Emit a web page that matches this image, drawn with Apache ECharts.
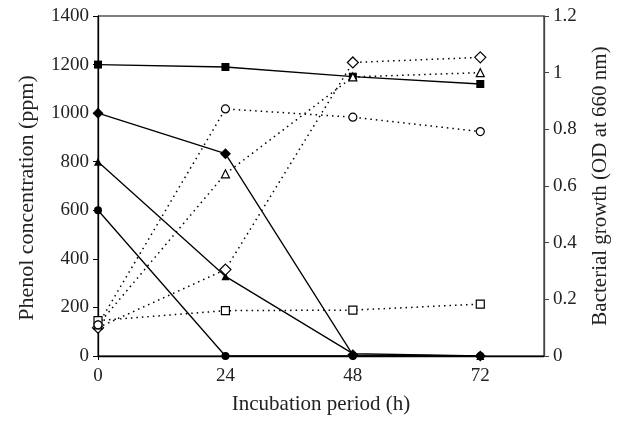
<!DOCTYPE html>
<html><head><meta charset="utf-8">
<script src="https://cdn.jsdelivr.net/npm/echarts@6/dist/echarts.min.js"></script>
<style>html,body{margin:0;padding:0;background:#fff}#c{width:619px;height:423px}</style>
</head><body><div id="c"></div>
<script>
const hours = [0, 24, 48, 72];
// Phenol concentration (ppm), left axis
const phenolSquare = [1200, 1190, 1150, 1120];
const phenolDiamond = [1000, 833, 5, 0];
const phenolTriangle = [800, 328, 10, 0];
const phenolCircle = [600, 0, 0, 0];
// Bacterial growth (OD at 660 nm), right axis
const odCircle = [0.11, 0.872, 0.843, 0.792];
const odDiamond = [0.10, 0.305, 1.036, 1.054];
const odTriangle = [0.11, 0.643, 0.985, 1.0];
const odSquare = [0.125, 0.16, 0.162, 0.183];

const font = 'Liberation Serif';
const tickSize = 19, nameSize = 21;
function pairs(v){ return hours.map((h,i)=>[h, v[i]]); }
function solid(name, data, sym){
  return {name, type:'line', yAxisIndex:0, data:pairs(data), symbol:sym, symbolSize: sym==='diamond'?11:8,
    itemStyle:{color:'#000'}, lineStyle:{color:'#000', width:1.3}, z:3};
}
function dotted(name, data, sym){
  return {name, type:'line', yAxisIndex:1, data:pairs(data), symbol:sym, symbolSize: sym==='diamond'?11:8,
    itemStyle:{color:'#fff', borderColor:'#000', borderWidth:1.2}, lineStyle:{color:'#000', width:1.5, type:[1.5,4]}, z:4};
}
const chart = echarts.init(document.getElementById('c'), null, {renderer:'canvas'});
chart.setOption({
  animation:false,
  grid:{left:98, right:74, top:16, bottom:67, show:true, borderColor:'#000', borderWidth:1},
  xAxis:{type:'value', min:0, max:84, interval:24,
    name:'Incubation period (h)', nameLocation:'middle', nameGap:38,
    nameTextStyle:{fontFamily:font, fontSize:nameSize, color:'#222'},
    axisLine:{lineStyle:{color:'#000', width:1.3}},
    axisTick:{show:true, length:4, lineStyle:{color:'#000'}},
    axisLabel:{showMaxLabel:false, fontFamily:font, fontSize:tickSize, color:'#222', margin:11,
      formatter:v=> (v%24===0 && v<=72) ? String(v) : ''},
    splitLine:{show:false}},
  yAxis:[
    {type:'value', min:0, max:1400, interval:200, position:'left',
      name:'Phenol concentration (ppm)', nameLocation:'middle', nameRotate:90, nameGap:60,
      nameTextStyle:{fontFamily:font, fontSize:22, color:'#222', padding:[0,24,0,0]},
      axisLine:{show:true, lineStyle:{color:'#000', width:1.3}},
      axisTick:{show:true, length:5, lineStyle:{color:'#000'}},
      axisLabel:{fontFamily:font, fontSize:tickSize, color:'#222', margin:9,
        formatter:v=> String(v)},
      splitLine:{show:false}},
    {type:'value', min:0, max:1.2, interval:0.2, position:'right',
      name:'Bacterial growth (OD at 660 nm)', nameLocation:'middle', nameRotate:90, nameGap:46,
      nameTextStyle:{fontFamily:font, fontSize:nameSize, color:'#222'},
      axisLine:{show:true, lineStyle:{color:'#444', width:1.3}},
      axisTick:{show:true, length:5, lineStyle:{color:'#444'}},
      axisLabel:{fontFamily:font, fontSize:tickSize, color:'#222', margin:9,
        formatter:v=> String(Math.round(v*10)/10)},
      splitLine:{show:false}}
  ],
  series:[
    solid('Phenol A', phenolSquare, 'rect'),
    solid('Phenol B', phenolDiamond, 'diamond'),
    solid('Phenol C', phenolTriangle, 'triangle'),
    solid('Phenol D', phenolCircle, 'circle'),
    dotted('OD A', odSquare, 'rect'),
    dotted('OD B', odDiamond, 'diamond'),
    dotted('OD C', odTriangle, 'triangle'),
    dotted('OD D', odCircle, 'circle')
  ]
});
</script></body></html>
